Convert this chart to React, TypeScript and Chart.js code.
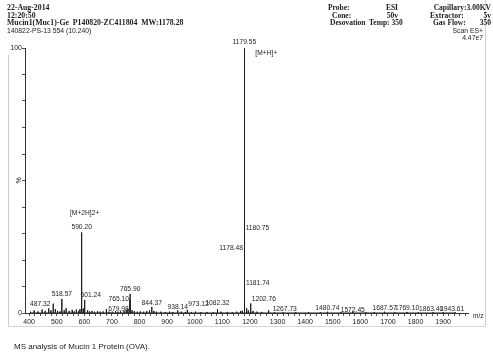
import React, { useEffect, useRef } from "react";
import { Chart, registerables } from "chart.js";

Chart.register(...registerables);

// ---- data ----
const peakMz = [487.32, 518.57, 590.2, 601.24, 679.98, 765.1, 765.9, 844.37, 938.14, 973.12, 1082.32, 1178.48, 1179.55, 1180.75, 1181.74, 1202.76, 1267.73, 1480.74, 1572.45, 1687.57, 1769.1, 1863.4, 1943.61];
const peakIntensity = [3.5, 5.3, 30.4, 4.9, 1.5, 5.0, 7.2, 2.3, 1.0, 1.2, 1.5, 24.3, 100, 30.4, 10.3, 3.6, 1.0, 0.5, 0.4, 0.5, 0.4, 0.3, 0.3];
const peakLabels = ["487.32", "518.57", "590.20", "601.24", "679.98", "765.10", "765.90", "844.37", "938.14", "973.12", "1082.32", "1178.48", "1179.55", "1180.75", "1181.74", "1202.76", "1267.73", "1480.74", "1572.45", "1687.57", "1769.10", "1863.40", "1943.61"];
const noiseMz = [405, 418, 432, 447, 458, 471, 479, 495, 503, 512, 527, 534, 545, 556, 563, 571, 579, 584, 596, 612, 619, 628, 637, 648, 657, 668, 689, 701, 713, 722, 731, 744, 752, 758, 773, 781, 792, 803, 815, 826, 836, 852, 861, 877, 893, 909, 921, 951, 966, 988, 1003, 1022, 1045, 1067, 1095, 1118, 1136, 1152, 1166, 1172, 1188, 1194, 1211, 1225, 1243, 1289, 1320, 1366, 1412, 1455, 1530, 1620, 1650, 1725, 1810, 1900];
const noiseIntensity = [0.5, 1.0, 0.6, 1.3, 0.8, 1.7, 1.0, 1.5, 0.8, 0.6, 1.0, 1.8, 0.8, 1.2, 0.6, 1.3, 0.8, 1.5, 1.7, 1.0, 0.6, 0.8, 0.5, 0.7, 0.5, 0.6, 0.5, 0.5, 0.7, 0.5, 0.6, 0.8, 1.2, 1.6, 1.1, 0.7, 0.5, 0.6, 0.5, 0.7, 1.0, 0.8, 0.5, 0.5, 0.4, 0.5, 0.4, 0.5, 0.4, 0.4, 0.5, 0.3, 0.4, 0.3, 0.5, 0.4, 0.3, 0.5, 0.7, 0.9, 1.8, 1.0, 0.8, 0.5, 0.4, 0.3, 0.3, 0.3, 0.3, 0.3, 0.3, 0.3, 0.3, 0.3, 0.3, 0.3];
const ionLabels = ["[M+2H]2+", "[M+H]+"];
const ionLabelPeaks = ["590.20", "1179.55"];
const xTickMin = 385;
const xTickMax = 1990;
const yTickMin = 0;
const yTickMax = 100;

// ---- styling of label placement (pixels) ----
type Place = { dx: number; dy: number; align: CanvasTextAlign };
const labelPlace: Record<string, Place> = {
  "487.32": { dx: -13, dy: 0, align: "center" },
  "601.24": { dx: 6, dy: -5, align: "center" },
  "679.98": { dx: 12, dy: 0, align: "center" },
  "765.10": { dx: -1, dy: -1, align: "right" },
  "844.37": { dx: 0, dy: -4, align: "center" },
  "938.14": { dx: 0, dy: -3, align: "center" },
  "973.12": { dx: 1, dy: -6, align: "left" },
  "1082.32": { dx: 0, dy: -6, align: "center" },
  "1178.48": { dx: -1, dy: 0, align: "right" },
  "1179.55": { dx: 0, dy: -6, align: "center" },
  "1180.75": { dx: 1, dy: -4, align: "left" },
  "1181.74": { dx: 1, dy: -3, align: "left" },
  "1202.76": { dx: 1, dy: -4, align: "left" },
  "1267.73": { dx: 4, dy: -1, align: "left" },
  "1480.74": { dx: 0, dy: -4, align: "center" },
  "1572.45": { dx: 0, dy: -2, align: "center" },
  "1687.57": { dx: 0, dy: -3.5, align: "center" },
  "1769.10": { dx: 0, dy: -3.5, align: "center" },
  "1863.40": { dx: -2, dy: -3, align: "center" },
  "1943.61": { dx: -3, dy: -3, align: "center" },
};
const defaultPlace: Place = { dx: 0, dy: -5, align: "center" };
const ionPlace: Record<string, Place> = {
  "[M+2H]2+": { dx: 3, dy: -19, align: "center" },
  "[M+H]+": { dx: 11, dy: 5, align: "left" },
};

const INK = "#1c1c1c";
const LABEL_FONT = '6.7px "Liberation Sans", Arial, sans-serif';

const peakLabelPlugin = {
  id: "peakLabels",
  afterDatasetsDraw(chart: any) {
    const { ctx, scales } = chart;
    const xs = scales.x;
    const ys = scales.y;
    ctx.save();
    ctx.font = LABEL_FONT;
    ctx.fillStyle = INK;
    ctx.textBaseline = "middle";
    peakMz.forEach((mz, i) => {
      const p = labelPlace[peakLabels[i]] || defaultPlace;
      const x = xs.getPixelForValue(mz);
      const y = ys.getPixelForValue(peakIntensity[i]);
      ctx.textAlign = p.align;
      ctx.fillText(peakLabels[i], x + p.dx, y + p.dy);
    });
    ionLabels.forEach((txt, i) => {
      const idx = peakLabels.indexOf(ionLabelPeaks[i]);
      const p = ionPlace[txt];
      const x = xs.getPixelForValue(peakMz[idx]);
      const y = ys.getPixelForValue(peakIntensity[idx]);
      ctx.textAlign = p.align;
      ctx.fillText(txt, x + p.dx, y + p.dy);
    });
    // axis unit labels
    ctx.font = '6.5px "Liberation Sans", Arial, sans-serif';
    ctx.textAlign = "left";
    ctx.fillText("m/z", xs.right + 5, xs.top + 3);
    ctx.save();
    ctx.translate(19, (ys.top + ys.bottom) / 2);
    ctx.rotate(-Math.PI / 2);
    ctx.textAlign = "center";
    ctx.font = '7px "Liberation Sans", Arial, sans-serif';
    ctx.fillText("%", 0, 0);
    ctx.restore();
    ctx.restore();
  },
};

export default function App() {
  const ref = useRef<HTMLCanvasElement | null>(null);

  useEffect(() => {
    if (!ref.current) return;
    const all = [
      ...peakMz.map((m, i) => ({ m, h: peakIntensity[i] })),
      ...noiseMz.map((m, i) => ({ m, h: noiseIntensity[i] })),
    ].sort((a, b) => a.m - b.m);
    const pts: { x: number; y: number }[] = [];
    all.forEach(({ m, h }) => {
      pts.push({ x: m, y: 0 }, { x: m, y: h }, { x: m, y: 0 });
    });

    const chart = new Chart(ref.current, {
      type: "line",
      data: {
        datasets: [
          {
            data: pts,
            borderColor: INK,
            borderWidth: 1,
            pointRadius: 0,
            tension: 0,
            fill: false,
          },
        ],
      },
      options: {
        responsive: false,
        maintainAspectRatio: false,
        devicePixelRatio: 1,
        animation: false,
        events: [],
        layout: { padding: { left: 0, top: 48, right: 25, bottom: 30 } },
        plugins: { legend: { display: false }, tooltip: { enabled: false }, title: { display: false } },
        scales: {
          x: {
            type: "linear",
            min: xTickMin,
            max: xTickMax,
            afterFit: (s: any) => {
              s.height = 19;
            },
            border: { display: true, color: "#333", width: 1 },
            grid: { drawOnChartArea: false, drawTicks: true, tickLength: 3, tickColor: "#555" },
            ticks: {
              stepSize: 20,
              includeBounds: false,
              autoSkip: false,
              maxRotation: 0,
              padding: 2,
              color: INK,
              font: { family: '"Liberation Sans", Arial, sans-serif', size: 7 },
              callback: (v: any) => (Number(v) % 100 === 0 ? String(v) : ""),
            },
          },
          y: {
            type: "linear",
            min: yTickMin,
            max: yTickMax,
            afterFit: (s: any) => {
              s.width = 25;
            },
            border: { display: true, color: "#333", width: 1 },
            grid: { drawOnChartArea: false, drawTicks: true, tickLength: 3, tickColor: "#555" },
            ticks: {
              stepSize: 10,
              autoSkip: false,
              padding: 0,
              color: INK,
              font: { family: '"Liberation Sans", Arial, sans-serif', size: 7 },
              callback: (v: any) => (Number(v) === 0 || Number(v) === 100 ? String(v) : ""),
            },
          },
        },
      },
      plugins: [peakLabelPlugin],
    } as any);
    return () => chart.destroy();
  }, []);

  const serifBold: React.CSSProperties = {
    position: "absolute",
    fontFamily: '"Liberation Serif", "Times New Roman", serif',
    fontWeight: "bold",
    fontSize: "7.8px",
    lineHeight: "8px",
    color: INK,
    whiteSpace: "pre",
  };
  const serifRight: React.CSSProperties = { ...serifBold, fontSize: "7.5px" };
  const sans: React.CSSProperties = {
    position: "absolute",
    fontFamily: '"Liberation Sans", Arial, sans-serif',
    fontSize: "6.8px",
    lineHeight: "8px",
    color: INK,
    whiteSpace: "pre",
  };
  const line = (top: number): number => top - 4;

  return (
    <div style={{ position: "absolute", left: 0, top: 0, width: 493, height: 362, background: "#fff", overflow: "hidden" }}>
      {/* scan frame */}
      <div style={{ position: "absolute", left: 8, top: 55, width: 1, height: 272, background: "#cfcfcf" }} />
      <div style={{ position: "absolute", left: 485, top: 0, width: 1, height: 327, background: "#cfcfcf" }} />
      <div style={{ position: "absolute", left: 8, top: 326, width: 478, height: 1, background: "#d6d6d6" }} />

      <canvas ref={ref} width={493} height={362} style={{ position: "absolute", left: 0, top: 0, width: 493, height: 362 }} />

      {/* header left */}
      <div style={{ ...serifBold, left: 7, top: line(8) }}>22-Aug-2014</div>
      <div style={{ ...serifBold, left: 7, top: line(15.5) }}>12:20:50</div>
      <div style={{ ...serifBold, left: 7, top: line(23) }}>Mucin1(Muc1)-Ge  P140820-ZC411804  MW:1178.28</div>
      <div style={{ ...sans, left: 7, top: line(30.5) }}>140822-PS-13 554 (10.240)</div>

      {/* header right */}
      <div style={{ ...serifRight, left: 328, top: line(8) }}>Probe:</div>
      <div style={{ ...serifRight, right: 493 - 398, top: line(8) }}>ESI</div>
      <div style={{ ...serifRight, right: 493 - 491, top: line(8) }}>Capillary:3.00KV</div>
      <div style={{ ...serifRight, left: 332, top: line(15.5) }}>Cone:</div>
      <div style={{ ...serifRight, right: 493 - 398, top: line(15.5) }}>50v</div>
      <div style={{ ...serifRight, left: 430, top: line(15.5) }}>Extractor:</div>
      <div style={{ ...serifRight, right: 493 - 491, top: line(15.5) }}>5v</div>
      <div style={{ ...serifRight, left: 330, top: line(23) }}>Desovation  Temp: 350</div>
      <div style={{ ...serifRight, left: 433, top: line(23) }}>Gas Flow:</div>
      <div style={{ ...serifRight, right: 493 - 491, top: line(23) }}>350</div>
      <div style={{ ...sans, right: 493 - 483, top: line(31), textAlign: "right" }}>Scan ES+</div>
      <div style={{ ...sans, right: 493 - 483, top: line(38), textAlign: "right" }}>4.47e7</div>

      {/* caption */}
      <div
        style={{
          position: "absolute",
          left: 14,
          top: 342,
          fontFamily: '"Liberation Sans", Arial, sans-serif',
          fontSize: "8px",
          lineHeight: "10px",
          color: "#222",
          whiteSpace: "pre",
        }}
      >
        MS analysis of Mucin 1 Protein (OVA).
      </div>
    </div>
  );
}
